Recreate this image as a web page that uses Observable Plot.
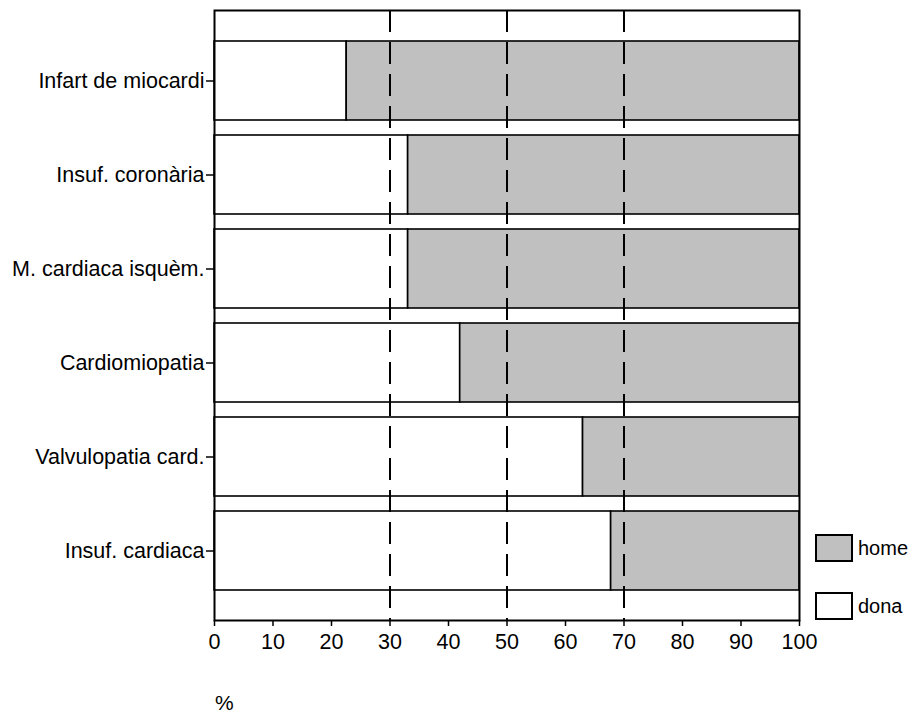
<!DOCTYPE html>
<html>
<head>
<meta charset="utf-8">
<script src="https://cdn.jsdelivr.net/npm/d3@7"></script>
<script src="https://cdn.jsdelivr.net/npm/@observablehq/plot@0.6"></script>
<style>
  html, body { margin: 0; padding: 0; background: #fff; }
  #wrap { position: relative; width: 918px; height: 717px; font-family: "Liberation Sans", Arial, sans-serif; }
  .legend-item { position: absolute; display: flex; align-items: center; font-size: 20px; color: #000; }
  .legend-box { box-sizing: border-box; width: 38px; height: 28px; border: 2px solid #000; margin-right: 5px; }
  .xlabel { position: absolute; left: 215px; top: 692px; font-size: 21px; line-height: 21px; color: #000; }
</style>
</head>
<body>
<div id="wrap"></div>
<script>
const categories = [
  "Infart de miocardi",
  "Insuf. coronària",
  "M. cardiaca isquèm.",
  "Cardiomiopatia",
  "Valvulopatia card.",
  "Insuf. cardiaca"
];
const donaPct = [22.6, 33.1, 33.1, 42.0, 63.0, 67.8];
const series = ["home", "dona"];
const seriesColors = ["#c0c0c0", "#ffffff"];
const xTicks = [0, 10, 20, 30, 40, 50, 60, 70, 80, 90, 100];
const refLines = [30, 50, 70];
const xLabel = "%";

const rows = [];
categories.forEach((c, i) => {
  rows.push({cat: c, sex: "dona", x1: 0, x2: donaPct[i]});
  rows.push({cat: c, sex: "home", x1: donaPct[i], x2: 100});
});

const chart = Plot.plot({
  width: 918,
  height: 717,
  marginLeft: 214,
  marginRight: 119,
  marginTop: 10,
  marginBottom: 97,
  style: {fontFamily: "'Liberation Sans', Arial, sans-serif", fontSize: "21.5px", color: "#000", background: "#fff"},
  x: {domain: [0, 100]},
  y: {domain: categories, paddingInner: 0.16, paddingOuter: 0.3245},
  color: {domain: series, range: seriesColors},
  marks: [
    Plot.barX(rows, {x1: "x1", x2: "x2", y: "cat", fill: "sex", stroke: "#000", strokeWidth: 1.6}),
    Plot.ruleX(refLines, {stroke: "#000", strokeWidth: 2, strokeDasharray: "22,10"}),
    Plot.frame({stroke: "#000", strokeWidth: 2}),
    Plot.axisY({tickSize: 8, tickPadding: 2, label: null, stroke: "#000", strokeWidth: 1.5}),
    Plot.axisX({ticks: xTicks, tickSize: 6, tickPadding: 7, tickFormat: d3.format("d"), stroke: "#000", strokeWidth: 1.5, label: null})
  ]
});

const wrap = document.getElementById("wrap");
wrap.appendChild(chart);

const xl = document.createElement("div");
xl.className = "xlabel";
xl.textContent = xLabel;
wrap.appendChild(xl);

const legendTops = [534, 592];
series.forEach((s, i) => {
  const item = document.createElement("div");
  item.className = "legend-item";
  item.style.left = "815px";
  item.style.top = legendTops[i] + "px";
  const box = document.createElement("div");
  box.className = "legend-box";
  box.style.background = seriesColors[i];
  const lab = document.createElement("span");
  lab.textContent = s;
  item.appendChild(box);
  item.appendChild(lab);
  wrap.appendChild(item);
});
</script>
</body>
</html>
